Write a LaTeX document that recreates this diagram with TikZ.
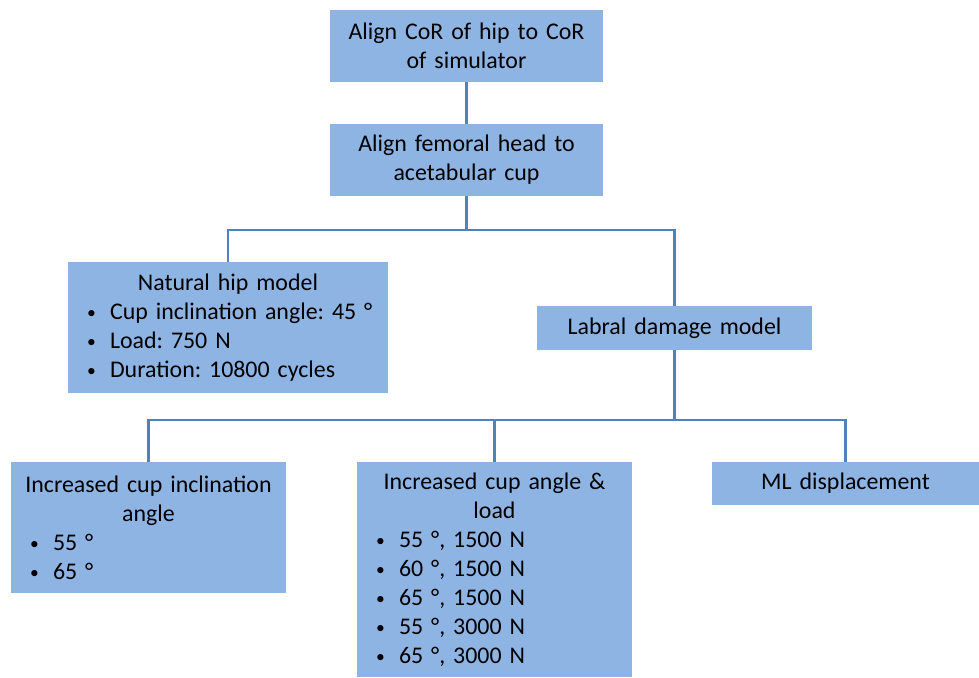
\documentclass[tikz,border=0pt]{standalone}
\usepackage{fontspec}
\setmainfont{Carlito}
\usetikzlibrary{positioning, calc}
\definecolor{boxblue}{HTML}{8EB4E3}
\definecolor{lineblue}{HTML}{4F81BD}
\setlength{\parindent}{0pt}
\frenchspacing
\tikzset{stepbox/.style={fill=boxblue, inner sep=0pt, font=\fontsize{13.6}{16.5}\selectfont}}
\tikzset{link/.style={draw=lineblue, line width=1.2pt}}
\newcommand{\bitem}[1]{\par\hspace*{0.38cm}\makebox[0.46cm][l]{\raisebox{0.3pt}{\fontsize{10}{10}\selectfont\textbullet}}#1}

\begin{document}
\begin{tikzpicture}[x=0.02cm, y=-0.02cm]
\useasboundingbox (0,0) rectangle (979,677);

% set-up steps
\node[stepbox, text width=5.46cm, minimum height=1.44cm, align=center] (cor) at (466.5,46) {Align CoR of hip to CoR\\ of simulator};
\node[stepbox, text width=5.46cm, minimum height=1.44cm, align=center] (head) at (466.5,160) {Align femoral head to\\ acetabular cup};

% the two models
\node[stepbox, text width=6.4cm, minimum height=2.62cm] (natural) at (228,327.5) {{\centering Natural hip model\par}
    \bitem{Cup inclination angle: 45 °}
    \bitem{Load: 750 N}
    \bitem{Duration: 10800 cycles}};
\node[stepbox, text width=5.5cm, minimum height=0.88cm, align=center] (labral) at (674.5,328) {Labral damage model};

% labral damage cases
\node[stepbox, text width=5.5cm, minimum height=2.62cm] (incl) at (148.5,527.5) {{\centering Increased cup inclination\\ angle\par}
    \bitem{55 °}
    \bitem{65 °}};
\node[stepbox, text width=5.5cm, minimum height=4.3cm] (angload) at (494.5,569.5) {{\centering Increased cup angle \&\\ load\par}
    \bitem{55 °, 1500 N}
    \bitem{60 °, 1500 N}
    \bitem{65 °, 1500 N}
    \bitem{55 °, 3000 N}
    \bitem{65 °, 3000 N}};
\node[stepbox, text width=5.34cm, minimum height=0.86cm, align=center] (mldisp) at (845.5,483.5) {ML displacement};

% connectors
\coordinate (split1) at (466.5,230);
\coordinate (split2) at (674.5,420);
\draw[link] (cor) -- (head);
\draw[link] (head) -- (split1) -| (natural.north);
\draw[link] (split1) -| (labral.north);
\draw[link] (labral) -- (split2) -| (incl.north);
\draw[link] (split2) -| (angload.north);
\draw[link] (split2) -| (mldisp.north);

\end{tikzpicture}
\end{document}
